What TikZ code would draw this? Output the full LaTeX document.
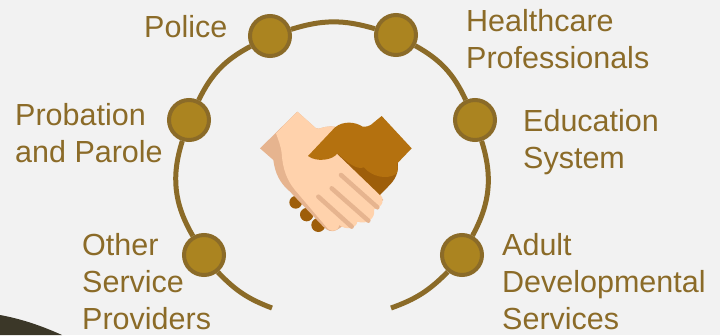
\documentclass[tikz,border=0pt]{standalone}
\usepackage{fontspec}
\setmainfont{Liberation Sans}
\usepackage{tikz}
\definecolor{ringbrown}{HTML}{8B6B28}
\definecolor{ringgold}{HTML}{AB8420}
\definecolor{pagegray}{HTML}{F2F2F2}
\definecolor{swoosh}{HTML}{3B3728}
\definecolor{skinlight}{HTML}{FFD2AC}
\definecolor{skinshade}{HTML}{E6B48F}
\definecolor{skinbrown}{HTML}{B4710F}
\definecolor{skindark}{HTML}{9E5E0A}
\tikzset{
	partner/.style={circle, draw=ringbrown, fill=ringgold, line width=4pt, minimum size=40pt, inner sep=0pt},
	link/.style={draw=ringbrown, line width=5pt},
	agency/.style={anchor=west, align=left, text=ringbrown, inner sep=0pt, font=\fontsize{30.5}{37}\selectfont}
}
\begin{document}
\begin{tikzpicture}[x=1pt,y=-1pt]
	\useasboundingbox (0,0) rectangle (720,335);
	\fill[pagegray] (0,0) rectangle (720,335);
	
	% Dark corner
	\fill[swoosh] (0,315) .. controls (22,319) and (42,326) .. (62,335) -- (0,335) -- cycle;
	
	% Ring of partners
	\node[partner] (police) at (270,36) {};
	\node[partner] (health) at (396,35) {};
	\node[partner] (school) at (475,120) {};
	\node[partner] (adult) at (462,255) {};
	\node[partner] (other) at (204,255) {};
	\node[partner] (probation) at (189,120) {};
	\coordinate (endleft) at (272,308);
	\coordinate (endright) at (391,308);
	
	% Ring segments
	\draw[link] (endleft) to[bend left=13] (other);
	\draw[link] (other) to[bend left=24] (probation);
	\draw[link] (probation) to[bend left=18] (police);
	\draw[link] (police) to[bend left=17] (health);
	\draw[link] (health) to[bend left=18] (school);
	\draw[link] (school) to[bend left=23] (adult);
	\draw[link] (adult) to[bend left=13] (endright);
	
	% Labels
	\node[agency] (policetext) at (144,27) {Police};
	\node[agency] (healthtext) at (466,39) {Healthcare\\Professionals};
	\node[agency] (schooltext) at (523,142) {Education\\System};
	\node[agency] (adulttext) at (502,282) {Adult\\Developmental\\Services};
	\node[agency] (othertext) at (82,282) {Other\\Service\\Providers};
	\node[agency] (probationtext) at (15,133) {Probation\\and Parole};
	
	% Handshake
	\begin{scope}[shift={(240,90)},scale=1/3]
		\fill[skindark] (167,337) circle (19);
		\fill[skindark] (200,374) circle (20);
		\fill[skindark] (235,405) circle (21);
		\fill[skinshade] (60,175) -- (172,65) -- (228,115) .. controls (240,120) and (250,106) .. (285,110)
			-- (300,200) -- (430,330) -- (290,420) .. controls (275,428) and (262,422) .. (250,410)
			-- (150,305) .. controls (120,280) and (105,250) .. (100,210) -- cycle;
		\fill[skinlight] (108,130) -- (172,65) -- (228,115) .. controls (240,120) and (250,106) .. (285,110)
			-- (300,190) -- (420,312) .. controls (435,325) and (430,352) .. (402,358)
			.. controls (408,385) and (380,405) .. (352,395) .. controls (350,415) and (318,422) .. (298,405)
			.. controls (297,420) and (280,428) .. (265,418) -- (165,300) .. controls (140,270) and (128,235) .. (125,190)
			.. controls (122,165) and (115,150) .. (108,130) -- cycle;
		\fill[skindark] (290,190) -- (420,315) -- (452,282) .. controls (470,262) and (478,240) .. (472,210) -- (400,180) -- cycle;
		\fill[skinbrown] (425,78) -- (515,175) -- (472,220) .. controls (474,240) and (472,250) .. (468,252)
			.. controls (440,270) and (395,260) .. (372,232) .. controls (350,240) and (325,220) .. (292,190)
			.. controls (280,210) and (230,218) .. (204,198) -- (285,112) .. controls (310,92) and (345,95) .. (368,110)
			.. controls (378,112) and (385,108) .. (392,105) -- cycle;
		\draw[skinshade, line width=4.5pt, line cap=round] (303,255) -- (412,352);
		\draw[skinshade, line width=4.5pt, line cap=round] (275,295) -- (385,392);
		\draw[skinshade, line width=4.5pt, line cap=round] (235,320) -- (335,410);
	\end{scope}
\end{tikzpicture}
\end{document}
